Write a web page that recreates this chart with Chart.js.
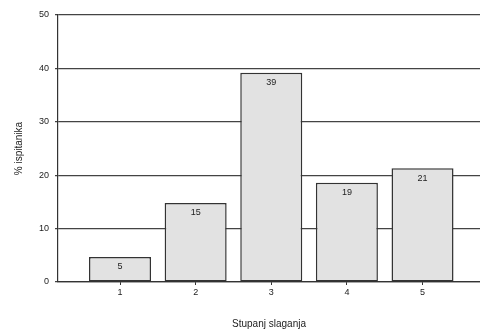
<!DOCTYPE html>
<html>
<head>
<meta charset="utf-8">
<script src="https://cdn.jsdelivr.net/npm/chart.js@4/dist/chart.umd.min.js"></script>
<style>
  html, body { margin: 0; padding: 0; background: #fff; }
  #wrap { width: 480px; height: 330px; }
</style>
</head>
<body>
<div id="wrap"><canvas id="myChart" width="480" height="330"></canvas></div>
<script>
// degree of agreement 1..5, percent of respondents
const categories = [1, 2, 3, 4, 5];
const percents = [4.7, 14.8, 39.2, 18.6, 21.3];
const valueLabels = ["5", "15", "39", "19", "21"];
const yTicks = [0, 10, 20, 30, 40, 50];

const barLabels = {
  id: "barLabels",
  afterDatasetsDraw(chart) {
    const ctx = chart.ctx;
    const meta = chart.getDatasetMeta(0);
    ctx.save();
    ctx.font = "9px 'Liberation Sans', Arial, sans-serif";
    ctx.fillStyle = "#222";
    ctx.textAlign = "center";
    ctx.textBaseline = "middle";
    meta.data.forEach((bar, i) => {
      ctx.fillText(valueLabels[i], bar.x, bar.y + 10);
    });
    ctx.restore();
  },
};

const ctx = document.getElementById("myChart");
const myChart = new Chart(ctx, {
  type: "bar",
  data: {
    datasets: [
      {
        label: "% ispitanika",
        data: categories.map((c, i) => ({ x: c, y: percents[i] })),
        backgroundColor: "#e2e2e2",
        borderColor: "#333",
        borderWidth: 1.5,
        borderSkipped: false,
        categoryPercentage: 1,
        barPercentage: 0.82,
      },
    ],
  },
  options: {
    responsive: false,
    animation: false,
    layout: { padding: { top: 15, left: 0, right: 0, bottom: 0 } },
    plugins: { legend: { display: false }, tooltip: { enabled: false } },
    scales: {
      x: {
        type: "linear",
        offset: false,
        min: 0.18,
        max: 5.76,
        afterBuildTicks: (s) => {
          s.ticks = categories.map((v) => ({ value: v }));
        },
        afterFit: (s) => {
          s.height = 48;
        },
        grid: {
          offset: false,
          drawOnChartArea: false,
          drawTicks: true,
          tickLength: 3,
          color: "#333",
        },
        border: { color: "#333", width: 1.2 },
        ticks: {
          color: "#222",
          padding: 2,
          font: { family: "'Liberation Sans', Arial, sans-serif", size: 9 },
        },
        title: {
          display: true,
          text: "Stupanj slaganja",
          color: "#222",
          padding: { top: 0, bottom: 0 },
          font: { family: "'Liberation Sans', Arial, sans-serif", size: 10 },
        },
      },
      y: {
        min: 0,
        max: 50,
        afterBuildTicks: (s) => {
          s.ticks = yTicks.map((v) => ({ value: v }));
        },
        afterFit: (s) => {
          s.width = 58;
        },
        grid: {
          color: "#444",
          lineWidth: 1.2,
          drawTicks: true,
          tickLength: 3,
        },
        border: { color: "#333", width: 1.2 },
        ticks: {
          color: "#222",
          padding: 6,
          font: { family: "'Liberation Sans', Arial, sans-serif", size: 9 },
        },
        title: {
          display: true,
          text: "% ispitanika",
          color: "#222",
          padding: { top: 13, bottom: 0 },
          font: { family: "'Liberation Sans', Arial, sans-serif", size: 10 },
        },
      },
    },
  },
  plugins: [barLabels],
});
</script>
</body>
</html>
